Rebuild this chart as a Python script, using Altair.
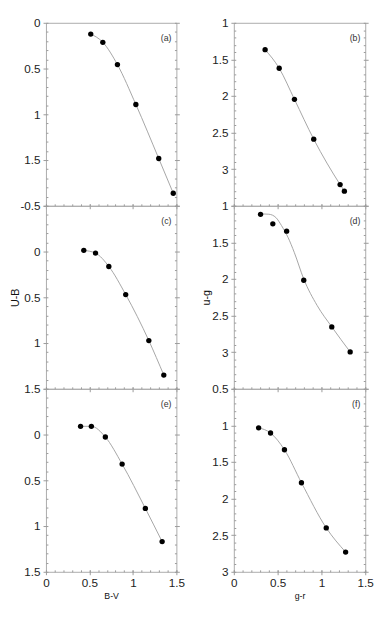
import altair as alt
import pandas as pd

# ---------------- data ----------------
A_BV = [0.515, 0.654, 0.822, 1.034, 1.297, 1.464]
A_UB = [0.123, 0.213, 0.457, 0.893, 1.483, 1.863]

B_GR = [0.357, 0.518, 0.692, 0.912, 1.213, 1.262]
B_UG = [1.367, 1.621, 2.046, 2.590, 3.210, 3.300]

C_BV = [0.435, 0.570, 0.723, 0.917, 1.183, 1.355]
C_UB = [-0.013, 0.017, 0.163, 0.470, 0.973, 1.350]

D_GR = [0.305, 0.445, 0.603, 0.798, 1.118, 1.328]
D_UG = [1.117, 1.246, 1.346, 2.017, 2.654, 2.996]
D_FIT_GR = [0.305, 0.400, 0.480, 0.544, 0.618, 0.691, 0.798, 0.950, 1.118, 1.328]
D_FIT_UG = [1.110, 1.115, 1.160, 1.270, 1.430, 1.640, 2.000, 2.360, 2.654, 2.996]

E_BV = [0.398, 0.522, 0.683, 0.876, 1.143, 1.336]
E_UB = [-0.090, -0.090, 0.027, 0.323, 0.807, 1.170]

F_GR = [0.283, 0.419, 0.578, 0.772, 1.055, 1.276]
F_UG = [1.033, 1.104, 1.333, 1.783, 2.400, 2.730]

X_DOMAIN = [0, 1.5]
X_LABELS = [0, 0.5, 1, 1.5]

Y_DOM = {"a": [0, 2], "c": [-0.5, 1.5], "e": [-0.5, 1.5],
         "b": [1, 3.5], "d": [1, 3.5], "f": [0.5, 3]}
Y_LABELS = {"a": [0, 0.5, 1, 1.5], "c": [-0.5, 0, 0.5, 1, 1.5], "e": [0, 0.5, 1, 1.5],
            "b": [1, 1.5, 2, 2.5, 3], "d": [1, 1.5, 2, 2.5, 3], "f": [0.5, 1, 1.5, 2, 2.5, 3]}

FONT = "Liberation Sans"
W_L, W_R, H = 134, 135, 188
TICK_COLOR = "#999999"


def steps(lo, hi, step):
    n = int(round((hi - lo) / step))
    return [round(lo + i * step, 1) for i in range(n + 1)]


def js(lst):
    return "[" + ",".join(repr(float(v)) for v in lst) + "]"


def tick_size(lo, hi):
    return {"condition": {"test": f"indexof({js(steps(lo, hi, 0.5))}, datum.value) >= 0", "value": 5},
            "value": 2}


def label_expr(show):
    return (f"indexof({js(show)}, datum.value) >= 0 ? "
            "(datum.value < 0 ? '-' : '') + format(abs(datum.value), '~g') : ''")


def y_axis(lo, hi, orient, show_labels=None, title=None):
    kw = dict(orient=orient, values=steps(lo, hi, 0.1), domain=False, grid=False, offset=-2,
              tickColor=TICK_COLOR, tickWidth=1, tickSize=tick_size(lo, hi),
              labelFont=FONT, labelFontSize=12, labelColor="#222222", labelPadding=3,
              titleFont=FONT, titleFontWeight="normal", titleColor="#111111",
              titleFontSize=11, titlePadding=0)
    if show_labels is None:
        kw["labels"] = False
    else:
        kw["labelExpr"] = label_expr(show_labels)
        kw["labelOverlap"] = False
        kw["labelFlush"] = False
    return alt.Axis(title=title, **kw)


def x_major_axis(xtitle=None):
    kw = dict(orient="bottom", values=X_LABELS, domain=False, grid=False, offset=-2,
              tickColor=TICK_COLOR, tickWidth=1, tickSize=5,
              labelFont=FONT, labelFontSize=12, labelColor="#222222", labelPadding=3,
              labelFlush=False, labelOverlap=False,
              titleFont=FONT, titleFontWeight="normal", titleColor="#111111",
              titleFontSize=9, titlePadding=3)
    if xtitle:
        kw["labelExpr"] = label_expr(X_LABELS)
    else:
        kw["labels"] = False
    return alt.Axis(title=xtitle, **kw)


def x_minor_axis():
    return alt.Axis(orient="bottom", values=steps(0, 1.5, 0.1), domain=False, grid=False, offset=-2,
                    tickColor=TICK_COLOR, tickWidth=1, tickSize=2, labels=False, title=None)


def panel(key, xs, ys, fx, fy, width, ytitle=None, xtitle=None):
    lo, hi = Y_DOM[key]
    pts = pd.DataFrame({"x": xs, "y": ys})
    fit = pd.DataFrame({"x": fx, "y": fy})
    xs_ = alt.Scale(domain=X_DOMAIN, nice=False, zero=False)
    ys_ = alt.Scale(domain=[lo, hi], reverse=True, nice=False, zero=False)

    line = alt.Chart(fit).mark_line(color="#9a9a9a", strokeWidth=0.9, interpolate="monotone").encode(
        x=alt.X("x:Q", scale=xs_, axis=x_major_axis(xtitle)),
        y=alt.Y("y:Q", scale=ys_, axis=y_axis(lo, hi, "left", Y_LABELS[key], title=ytitle)),
    )
    dots = alt.Chart(pts).mark_circle(size=30, color="black", opacity=1).encode(
        x=alt.X("x:Q", scale=xs_, axis=x_minor_axis()),
        y=alt.Y("y:Q", scale=ys_, axis=y_axis(lo, hi, "right", None)),
    )
    tag = alt.Chart(pd.DataFrame({"t": [f"({key})"]})).mark_text(
        align="right", baseline="alphabetic", font=FONT, fontSize=9, color="#333333"
    ).encode(x=alt.value(width - 5), y=alt.value(19), text="t:N")
    return alt.layer(line, dots, tag).resolve_axis(x="independent", y="independent").properties(
        width=width, height=H,
    )


left = alt.vconcat(
    panel("a", A_BV, A_UB, A_BV, A_UB, W_L),
    panel("c", C_BV, C_UB, C_BV, C_UB, W_L, ytitle="U-B"),
    panel("e", E_BV, E_UB, E_BV, E_UB, W_L, xtitle="B-V"),
    spacing=0, bounds="flush",
)
right = alt.vconcat(
    panel("b", B_GR, B_UG, B_GR, B_UG, W_R),
    panel("d", D_GR, D_UG, D_FIT_GR, D_FIT_UG, W_R, ytitle="u-g"),
    panel("f", F_GR, F_UG, F_GR, F_UG, W_R, xtitle="g-r"),
    spacing=0, bounds="flush",
)

chart = alt.hconcat(left, right, spacing=15).properties(
    padding=0, background="white"
).configure_view(stroke="#aaaaaa", strokeWidth=1)

chart.save("out.html", embed_options={"renderer": "svg", "actions": False})
